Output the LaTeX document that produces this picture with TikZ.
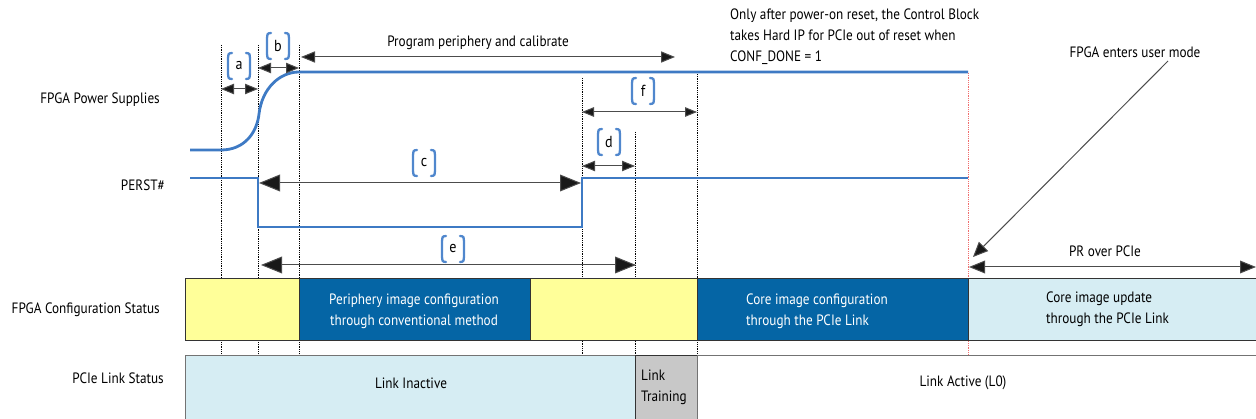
\documentclass[tikz,border=0pt]{standalone}
\usepackage{fontspec}
\setmainfont[FakeStretch=0.88]{PT Sans}
\usetikzlibrary{arrows.meta}

\definecolor{sigblue}{RGB}{62,122,196}
\definecolor{tagblue}{RGB}{80,135,205}
\definecolor{cfgyellow}{RGB}{255,255,153}
\definecolor{cfgdark}{RGB}{5,101,165}
\definecolor{linklight}{RGB}{214,237,243}
\definecolor{linkgray}{RGB}{200,200,200}
\definecolor{markred}{RGB}{240,110,110}

% a bracketed tag letter such as (a), centred at (#2,#3)
\newcommand\tagmark[4]{%
  \begin{scope}[shift={(#2,#3)}]
    \node[tagtxt] (#1) at (0,0) {#4};
    \draw[brk] (-7,-13) .. controls (-11,-13) and (-11,-11) .. (-11,-8) -- (-11,8)
               .. controls (-11,11) and (-11,13) .. (-7,13);
    \draw[brk] (7,-13) .. controls (11,-13) and (11,-11) .. (11,-8) -- (11,8)
               .. controls (11,11) and (11,13) .. (7,13);
  \end{scope}}

\begin{document}
\begin{tikzpicture}[x=1pt,y=-1pt,
  font=\fontsize{15}{21}\selectfont,
  txt/.style={inner sep=0pt},
  tagtxt/.style={inner sep=0pt, font=\fontsize{16}{16}\selectfont},
  brk/.style={draw=tagblue, line width=2.3pt, line cap=round},
  sig/.style={draw=sigblue, line width=2.8pt},
  grid/.style={draw=black, densely dotted, line width=0.8pt},
  redgrid/.style={draw=markred, densely dotted, line width=0.8pt},
  head/.style={Triangle[length=#1, width=#1*0.85, fill=black!90]},
  dim/.style={draw=black!70, line width=1pt,
    {Triangle[length=#1,width=0.8*#1,fill=black!90]}-{Triangle[length=#1,width=0.8*#1,fill=black!90]}},
  dim/.default=15pt,
  pointer/.style={draw=black!70, line width=1pt,
    -{Triangle[length=15pt,width=13pt,fill=black!90]}},
  cfgbox/.style={draw=black!80, line width=1pt, inner sep=0pt, anchor=north west, minimum height=62pt},
  linkbox/.style={draw=black!55, line width=1pt, inner sep=0pt, anchor=north west, minimum height=64pt},
]
\useasboundingbox (0,0) rectangle (1256,419);

% time markers
\draw[grid] (221,45) -- (221,355);
\draw[grid] (258,45) -- (258,355);
\draw[grid] (299,45) -- (299,355);
\draw[grid] (582,78) -- (582,355);
\draw[grid] (635,132) -- (635,355);
\draw[grid] (697,74) -- (697,355);
\draw[redgrid] (968,73) -- (968,355);

% signal row labels
\node[txt, anchor=east] (lpwr) at (160,100) {FPGA Power Supplies};
\node[txt, anchor=east] (lrst) at (165,185) {PERST\#};
\node[txt, anchor=east] (lcfg) at (160,310) {FPGA Configuration Status};
\node[txt, anchor=east] (llnk) at (164,378) {PCIe Link Status};

% waveforms
\draw[sig] (190,150) -- (221,150) .. controls (245,150) and (257,132) .. (259,114)
           .. controls (262,88) and (280,72) .. (299,72) -- (968,72);
\draw[sig, line join=miter] (190,178) -- (258,178) -- (258,227) -- (582,227) -- (582,178) -- (968,178);

% timing intervals
\coordinate (a1) at (221,89);  \coordinate (a2) at (258,89);
\coordinate (b1) at (258,68);  \coordinate (b2) at (299,68);
\coordinate (p1) at (301,57);  \coordinate (p2) at (675,57);
\coordinate (f1) at (582,112); \coordinate (f2) at (697,112);
\coordinate (d1) at (582,166); \coordinate (d2) at (635,166);
\coordinate (c1) at (259,183); \coordinate (c2) at (581,183);
\coordinate (e1) at (261,265); \coordinate (e2) at (636,265);
\coordinate (r1) at (969,267); \coordinate (r2) at (1256,267);
\draw[dim=13pt] (a1) -- (a2);
\draw[dim=13pt] (b1) -- (b2);
\draw[dim=14pt] (p1) -- (p2);
\draw[dim=12pt] (f1) -- (f2);
\draw[dim=13pt] (d1) -- (d2);
\draw[dim=21pt] (c1) -- (c2);
\draw[dim=21pt] (e1) -- (e2);
\draw[dim=16pt] (r1) -- (r2);

\tagmark{ta}{239}{66}{a}
\tagmark{tb}{278}{46}{b}
\tagmark{tc}{424}{163}{c}
\tagmark{td}{609}{142}{d}
\tagmark{te}{453}{249}{e}
\tagmark{tf}{643}{91}{f}

\node[txt] (prog) at (478,43) {Program periphery and calibrate};
\node[txt, anchor=north west, align=left] (note) at (730,9)
  {Only after power-on reset, the Control Block\\takes Hard IP for PCIe out of reset when\\CONF\_DONE = 1};
\node[txt] (user) at (1135,52) {FPGA enters user mode};
\coordinate (userhead) at (973,257);
\draw[pointer] (1168,61) -- (userhead);
\node[txt] (pr) at (1105,251) {PR over PCIe};

% configuration status row
\node[cfgbox, fill=cfgyellow, minimum width=114pt] (cy1) at (185,278) {};
\node[cfgbox, fill=cfgdark, minimum width=231pt] (cd1) at (299,278) {};
\node[cfgbox, fill=cfgyellow, minimum width=167pt] (cy2) at (530,278) {};
\node[cfgbox, fill=cfgdark, minimum width=271pt] (cd2) at (697,278) {};
\node[cfgbox, fill=linklight, minimum width=290pt] (cu) at (968,278) {};
\node[txt, white, align=center] (cd1t) at (414,311) {Periphery image configuration\\through conventional method};
\node[txt, white, align=left, anchor=west] (cd2t) at (746,311) {Core image configuration\\through the PCIe Link};
\node[txt, align=left, anchor=west] (cut) at (1046,309) {Core image update\\through the PCIe Link};

% PCIe link status row
\node[linkbox, fill=linklight, minimum width=450pt] (li) at (185,355) {};
\node[linkbox, fill=linkgray, draw=black!80, minimum width=62pt] (lt) at (635,355) {};
\node[linkbox, fill=white, minimum width=562pt] (la) at (697,355) {};
\node[txt] (lit) at (411,383) {Link Inactive};
\node[txt, align=left, anchor=west] (ltt) at (641,387) {Link\\Training};
\node[txt] (lat) at (963,383) {Link Active (L0)};
\end{tikzpicture}
\end{document}
